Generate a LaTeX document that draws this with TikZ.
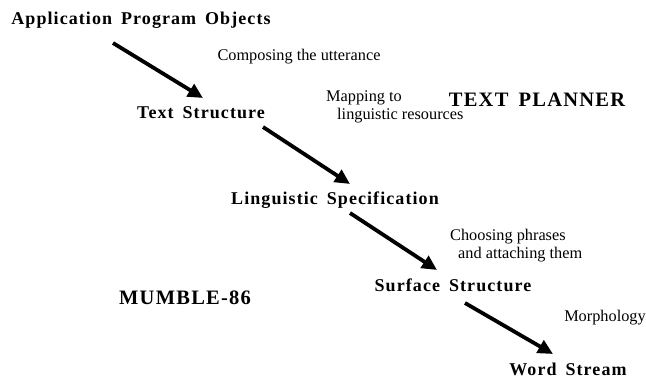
\documentclass[tikz,border=0pt]{standalone}
\usepackage{fontspec}
\setmainfont{Liberation Serif}
\newfontfamily\hb[LetterSpace=6,WordSpace=1.6]{Liberation Serif}
\usetikzlibrary{arrows.meta}
\tikzset{
  stage/.style={font=\hb\bfseries\fontsize{18}{20}\selectfont, inner sep=0pt, anchor=center},
  big/.style={font=\hb\bfseries\fontsize{20.5}{22}\selectfont, inner sep=0pt, anchor=center},
  note/.style={font=\fontsize{16.3}{17.5}\selectfont, inner sep=0pt, align=left, anchor=center},
  flow/.style={line width=3.8pt, -{Triangle[length=15pt,width=14pt]}}
}
\begin{document}
\begin{tikzpicture}[x=1pt,y=-1pt]
\useasboundingbox (0,0) rectangle (646,379);
\node[stage] (apo) at (141,20) {Application Program Objects};
\node[note] (comp) at (299,57) {Composing the utterance};
\node[stage] (ts) at (201,113) {Text Structure};
\node[big] (tp) at (537,100) {TEXT PLANNER};
\node[note, anchor=west] (map) at (326,107) {Mapping to\\\hspace*{11pt}linguistic resources};
\node[stage] (ls) at (335,200) {Linguistic Specification};
\node[note, anchor=west] (choose) at (450,245.5) {Choosing phrases\\\hspace*{8pt}and attaching them};
\node[stage] (ss) at (453,285) {Surface Structure};
\node[big] (mum) at (185,298) {MUMBLE-86};
\node[note] (morph) at (605,318) {Morphology};
\node[stage] (ws) at (568,369) {Word Stream};
\coordinate (a1s) at (113,43); \coordinate (a1e) at (203,98);
\coordinate (a2s) at (263,127); \coordinate (a2e) at (350,184);
\coordinate (a3s) at (350,213); \coordinate (a3e) at (437,270);
\coordinate (a4s) at (465,303); \coordinate (a4e) at (553,354);
\draw[flow] (a1s) -- (a1e);
\draw[flow] (a2s) -- (a2e);
\draw[flow] (a3s) -- (a3e);
\draw[flow] (a4s) -- (a4e);
\end{tikzpicture}
\end{document}
